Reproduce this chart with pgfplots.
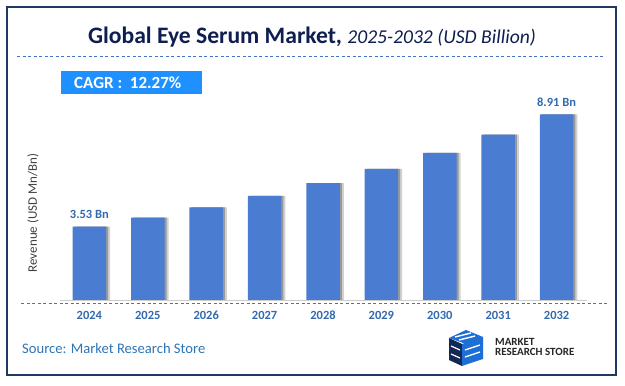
\documentclass[border=0pt]{standalone}
\usepackage{fontspec}
\setmainfont{Carlito}
\usepackage{pgfplots}
\pgfplotsset{compat=1.18}
\definecolor{titlenavy}{RGB}{14,30,80}
\definecolor{barblue}{RGB}{74,125,209}
\definecolor{lblblue}{RGB}{50,105,175}
\definecolor{srcblue}{RGB}{46,117,182}
\definecolor{dashblue}{RGB}{68,114,196}
\definecolor{cagrblue}{RGB}{30,144,255}
\definecolor{bordernavy}{RGB}{31,56,100}
\definecolor{logoblue}{RGB}{30,110,215}
\definecolor{logonavy}{RGB}{20,40,85}
\begin{document}
\begin{tikzpicture}[x=1pt,y=1pt]
\useasboundingbox (0,0) rectangle (625,386);
\fill[white] (0,0) rectangle (625,386);
% frame
\draw[bordernavy, line width=1.3pt] (7,379) rectangle (616,11);
% title
\node[anchor=base, text=titlenavy, inner sep=0pt] at (312,342.7)
  {\fontsize{23.6}{28}\selectfont\textbf{Global Eye Serum Market,} \fontsize{19.6}{24}\selectfont\textit{2025-2032 (USD Billion)}};
\draw[dashblue, line width=0.8pt, dash pattern=on 3pt off 2.5pt] (17,330) -- (603,330);
% CAGR box
\fill[cagrblue] (61,315) rectangle (202,292);
\node[anchor=west, text=white, inner sep=0pt] at (74,303.5)
  {\fontsize{17}{20}\selectfont\textbf{CAGR :~~12.27\%}};
% y label
\node[rotate=90, text=black!75, inner sep=0pt] at (33,173)
  {\fontsize{13}{15}\selectfont Revenue (USD Mn/Bn)};
% baseline
\draw[black!20, line width=0.8pt] (60,86) -- (587,86);
\draw[dashblue, line width=0.8pt, dash pattern=on 3pt off 2.5pt] (21,83) -- (607,83);
\begin{axis}[
  at={(60.2pt,86pt)}, anchor=south west,
  scale only axis, width=525.6pt, height=200pt,
  xmin=-0.5, xmax=8.5, ymin=0, ymax=9.606,
  clip=false,
  axis line style={draw=none}, tick style={draw=none},
  ytick=\empty,
  xtick={0,1,2,3,4,5,6,7,8},
  xticklabels={2024,2025,2026,2027,2028,2029,2030,2031,2032},
  xticklabel style={anchor=center, yshift=-15pt, text=lblblue, font=\fontsize{12.5}{14}\selectfont\bfseries},
  /pgf/number format/assume math mode=true,
]
\addplot[ybar, bar width=33.5pt, bar shift=4pt, draw=none, fill=black!18] coordinates {
  (0,3.53) (1,3.96) (2,4.45) (3,5.00) (4,5.61) (5,6.30) (6,7.07) (7,7.94) (8,8.91)};
\addplot[ybar, bar width=33.5pt, bar shift=2pt, draw=none, fill=black!40] coordinates {
  (0,3.53) (1,3.96) (2,4.45) (3,5.00) (4,5.61) (5,6.30) (6,7.07) (7,7.94) (8,8.91)};
\addplot[ybar, bar width=33.5pt, bar shift=0pt, draw=none, fill=barblue] coordinates {
  (0,3.53) (1,3.96) (2,4.45) (3,5.00) (4,5.61) (5,6.30) (6,7.07) (7,7.94) (8,8.91)};
\addplot[draw=none, mark=none, point meta=explicit symbolic,
  nodes near coords,
  nodes near coords style={anchor=south, inner sep=0pt, yshift=8pt, text=lblblue, font=\fontsize{12.5}{14}\selectfont\bfseries}]
  coordinates {(0,3.53) [3.53 Bn] (8,8.91) [8.91 Bn]};
\end{axis}
% source
\node[anchor=west, text=srcblue, inner sep=0pt] at (22,37.7)
  {\fontsize{14.6}{17}\selectfont Source: Market Research Store};
% logo
\begin{scope}
  \fill[logonavy] (449,48) -- (449,26) -- (462,20) -- (462,42) -- cycle;
  \fill[logoblue] (449,48) -- (466,56) -- (483,49) -- (466,42) -- cycle;
  \fill[logoblue] (462,42) -- (483,49) -- (483,27) -- (462,20) -- cycle;
  \draw[white, line width=1.4pt] (455,49) -- (471,53);
  \draw[white, line width=1.4pt] (459,46) -- (475,50);
  \draw[white, line width=1.4pt] (465,36) -- (480,41) (465,29) -- (480,34);
  \draw[white, line width=1.2pt] (451,40) -- (460,36) (451,32) -- (460,28);
\end{scope}
\node[anchor=west, text=black!85, inner sep=0pt] at (495,44.3)
  {\fontsize{11}{12}\selectfont\bfseries MARKET};
\node[anchor=west, text=black!85, inner sep=0pt] at (495,34.3)
  {\fontsize{11}{12}\selectfont\bfseries RESEARCH STORE};
\end{tikzpicture}
\end{document}
